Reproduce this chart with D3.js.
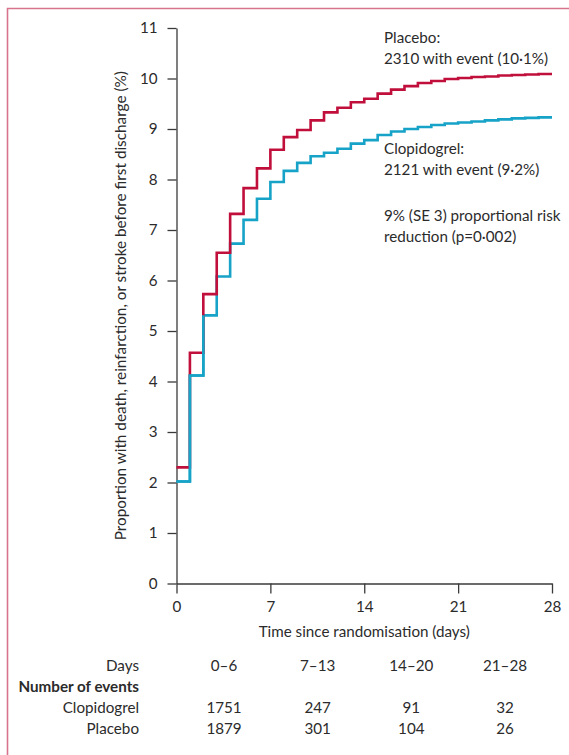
<!DOCTYPE html>
<html>
<head>
<meta charset="utf-8">
<script src="https://cdn.jsdelivr.net/npm/d3@7"></script>
<style>
  body { margin: 0; background: #fff; }
  svg text { font-family: Lato, "Open Sans", sans-serif; fill: #2b2b2b; }
</style>
</head>
<body>
<svg class="km-svg"></svg>
<script>
// days at which each step starts (last value is the end of follow-up)
const stepDays = [0, 1, 2, 3, 4, 5, 6, 7, 8, 9, 10, 11, 12, 13, 14, 15, 16, 17, 18, 19, 20, 21, 22, 23, 24, 25, 26, 27, 28];

// cumulative % with event, one value per day step
const placeboRisk = [2.30, 4.57, 5.73, 6.55, 7.32, 7.83, 8.22, 8.59, 8.84, 8.98, 9.17, 9.33, 9.42, 9.53, 9.60, 9.70, 9.78, 9.85, 9.91, 9.95, 9.99, 10.01, 10.03, 10.04, 10.06, 10.07, 10.08, 10.09];
const clopidogrelRisk = [2.02, 4.12, 5.31, 6.08, 6.73, 7.20, 7.62, 7.95, 8.17, 8.33, 8.46, 8.53, 8.61, 8.71, 8.78, 8.88, 8.95, 9.00, 9.04, 9.08, 9.11, 9.13, 9.15, 9.17, 9.19, 9.21, 9.22, 9.23];

const xTicks = [0, 7, 14, 21, 28];
const yTicks = [0, 1, 2, 3, 4, 5, 6, 7, 8, 9, 10, 11];

// events table
const dayRanges = ["0–6", "7–13", "14–20", "21–28"];
const clopidogrelEvents = [1751, 247, 91, 32];
const placeboEvents = [1879, 301, 104, 26];

const placeboNote = ["Placebo:", "2310 with event (10·1%)"];
const clopidogrelNote = ["Clopidogrel:", "2121 with event (9·2%)"];
const reductionNote = ["9% (SE 3) proportional risk", "reduction (p=0·002)"];

const W = 569, H = 755;
const RED = "#c10f3c", BLUE = "#16a3c7", INK = "#2b2b2b", FRAME = "#d8738e";
const FS = "15.2px";

function drawChart() {
  const svg = d3.select(".km-svg").attr("width", W).attr("height", H);

  //frame (top + left rule)
  svg.append("path")
    .attr("d", "M7.5," + H + "V8.5H" + W)
    .attr("fill", "none")
    .attr("stroke", FRAME)
    .attr("stroke-width", 1.6);

  //set scale
  const xScale = d3.scaleLinear().domain([0, 28]).range([176.5, 552]);
  const yScale = d3.scaleLinear().domain([0, 11]).range([583.5, 28]);

  //set axis
  const xAxis = d3.axisBottom(xScale)
    .tickValues(xTicks)
    .tickSize(10)
    .tickSizeOuter(0)
    .tickPadding(8);
  const yAxis = d3.axisLeft(yScale)
    .tickValues(yTicks)
    .tickSize(9)
    .tickSizeOuter(0)
    .tickPadding(10);

  const gx = svg.append("g")
    .attr("transform", "translate(0," + yScale(0) + ")")
    .call(xAxis);
  const gy = svg.append("g")
    .attr("transform", "translate(" + xScale(0) + ",0)")
    .call(yAxis);

  [gx, gy].forEach(function(g) {
    g.selectAll("path, line").attr("stroke", "#3a3a3a").attr("stroke-width", 1.3);
    g.selectAll("text")
      .attr("fill", INK)
      .style("font-family", "Lato, sans-serif")
      .style("font-size", FS);
  });

  //axis titles
  svg.append("text")
    .attr("x", (xScale(0) + xScale(28)) / 2)
    .attr("y", 637)
    .attr("text-anchor", "middle")
    .style("font-size", FS)
    .text("Time since randomisation (days)");

  svg.append("text")
    .attr("transform", "translate(126," + (yScale(0) + yScale(11)) / 2 + ") rotate(-90)")
    .attr("text-anchor", "middle")
    .style("font-size", "15.3px")
    .text("Proportion with death, reinfarction, or stroke before first discharge (%)");

  //step curves
  const line = d3.line()
    .x(function(d) { return xScale(d[0]); })
    .y(function(d) { return yScale(d[1]); })
    .curve(d3.curveStepAfter);

  function toSteps(values) {
    const pts = values.map(function(v, i) { return [stepDays[i], v]; });
    pts.push([stepDays[values.length], values[values.length - 1]]);
    return pts;
  }

  svg.append("path")
    .datum(toSteps(clopidogrelRisk))
    .attr("d", line)
    .attr("fill", "none")
    .attr("stroke", BLUE)
    .attr("stroke-width", 2.6);

  svg.append("path")
    .datum(toSteps(placeboRisk))
    .attr("d", line)
    .attr("fill", "none")
    .attr("stroke", RED)
    .attr("stroke-width", 2.6);

  // keep the blue on top where both drop together at the start
  svg.append("path")
    .datum(toSteps(clopidogrelRisk).slice(0, 3))
    .attr("d", line)
    .attr("fill", "none")
    .attr("stroke", BLUE)
    .attr("stroke-width", 2.6);

  //annotations
  function note(lines, y0) {
    svg.append("g").selectAll("text")
      .data(lines)
      .enter()
      .append("text")
      .attr("x", 384)
      .attr("y", function(d, i) { return y0 + i * 21; })
      .style("font-size", FS)
      .text(function(d) { return d; });
  }
  note(placeboNote, 43);
  note(clopidogrelNote, 154);
  note(reductionNote, 221);

  //table below the axis
  const colScale = d3.scalePoint().domain(dayRanges).range([224, 505]);
  const labelX = 139;
  const rowY = { days: 671, head: 692, clop: 713, plac: 734 };

  function rowLabel(txt, y, bold) {
    svg.append("text")
      .attr("x", labelX)
      .attr("y", y)
      .attr("text-anchor", "end")
      .style("font-size", FS)
      .style("font-weight", bold ? "bold" : "normal")
      .text(txt);
  }
  rowLabel("Days", rowY.days, false);
  rowLabel("Number of events", rowY.head, true);
  rowLabel("Clopidogrel", rowY.clop, false);
  rowLabel("Placebo", rowY.plac, false);

  function rowValues(values, y) {
    svg.append("g").selectAll("text")
      .data(values)
      .enter()
      .append("text")
      .attr("x", function(d, i) { return colScale(dayRanges[i]); })
      .attr("y", y)
      .attr("text-anchor", "middle")
      .style("font-size", FS)
      .text(function(d) { return d; });
  }
  rowValues(dayRanges, rowY.days);
  rowValues(clopidogrelEvents, rowY.clop);
  rowValues(placeboEvents, rowY.plac);
}

drawChart();
</script>
</body>
</html>
